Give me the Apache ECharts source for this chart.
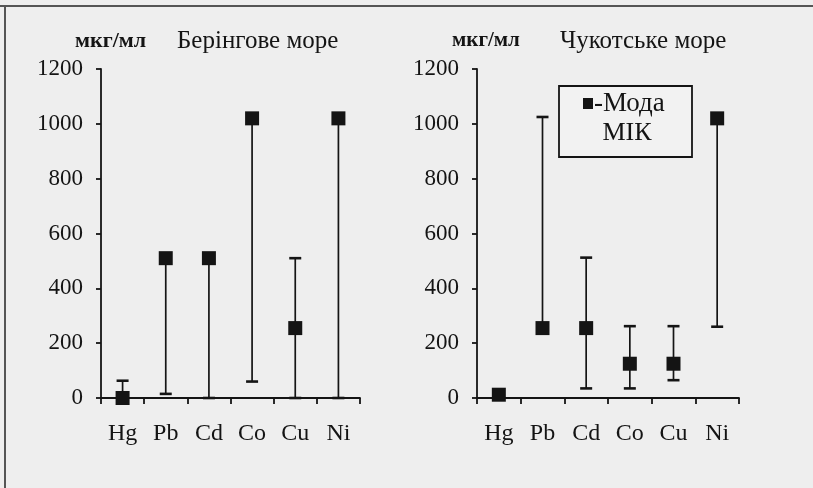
<!DOCTYPE html>
<html>
<head>
<meta charset="utf-8">
<script src="https://cdn.jsdelivr.net/npm/echarts@6/dist/echarts.min.js"></script>
<style>
  html, body { margin: 0; padding: 0; background: #eeeeee; }
  #chart { width: 813px; height: 488px; }
</style>
</head>
<body>
<div id="chart"></div>
<script>
// elemen
const categories = ['Hg', 'Pb', 'Cd', 'Co', 'Cu', 'Ni']

// Берінгове море
const beringMode = [0, 510, 510, 1020, 255, 1020]
const beringLow = [0, 15, 0, 60, 0, 0]
const beringHigh = [63, 510, 510, 1020, 510, 1020]

// Чукотське море
const chukotMode = [12, 255, 255, 125, 125, 1020]
const chukotLow = [5, 255, 35, 35, 65, 260]
const chukotHigh = [20, 1025, 512, 262, 262, 1020]

const yMax = 1200
const yStep = 200

const serif = '"Liberation Serif", "DejaVu Serif", serif'
const ink = '#141414'

function rangeData(low, high) {
    return categories.map((c, i) => [i, low[i], high[i]])
}

function modeData(mode) {
    return categories.map((c, i) => [i, mode[i]])
}

// garis rentang dengan tutup di kedua ujung
function renderWhisker(params, api) {
    const x = api.value(0)
    const lo = api.coord([x, api.value(1)])
    const hi = api.coord([x, api.value(2)])
    const half = 6
    const cap = { stroke: ink, lineWidth: 2.6 }
    return {
        type: 'group',
        children: [
            { type: 'line', shape: { x1: lo[0], y1: lo[1], x2: hi[0], y2: hi[1] }, style: { stroke: ink, lineWidth: 1.7 } },
            { type: 'line', shape: { x1: lo[0] - half, y1: lo[1], x2: lo[0] + half, y2: lo[1] }, style: cap },
            { type: 'line', shape: { x1: hi[0] - half, y1: hi[1], x2: hi[0] + half, y2: hi[1] }, style: cap }
        ]
    }
}

function makeXAxis(gridIndex) {
    return {
        type: 'category',
        gridIndex: gridIndex,
        data: categories,
        boundaryGap: true,
        axisLine: { lineStyle: { color: ink, width: 1.8 } },
        axisTick: { show: true, length: 6, alignWithLabel: false, lineStyle: { color: ink, width: 1.8 } },
        axisLabel: { color: ink, fontFamily: serif, fontSize: 24, margin: 24 },
        splitLine: { show: false }
    }
}

function makeYAxis(gridIndex) {
    return {
        type: 'value',
        gridIndex: gridIndex,
        min: 0,
        max: yMax,
        interval: yStep,
        axisLine: { show: true, lineStyle: { color: ink, width: 1.8 } },
        axisTick: { show: true, length: 5, lineStyle: { color: ink, width: 1.8 } },
        axisLabel: { color: ink, fontFamily: serif, fontSize: 23, margin: 18, formatter: (v) => String(v) },
        splitLine: { show: false }
    }
}

function makeSeries(idx, low, high, mode) {
    return [
        {
            type: 'custom',
            xAxisIndex: idx,
            yAxisIndex: idx,
            renderItem: renderWhisker,
            data: rangeData(low, high),
            clip: false,
            z: 2
        },
        {
            type: 'scatter',
            xAxisIndex: idx,
            yAxisIndex: idx,
            symbol: 'rect',
            symbolSize: 14,
            itemStyle: { color: ink, opacity: 1 },
            data: modeData(mode),
            clip: false,
            z: 3
        }
    ]
}

const chart = echarts.init(document.getElementById('chart'))
const option = {
    backgroundColor: '#eeeeee',
    animation: false,
    grid: [
        { left: 101, top: 69, width: 259, height: 329 },
        { left: 477, top: 69, width: 262, height: 329 }
    ],
    xAxis: [makeXAxis(0), makeXAxis(1)],
    yAxis: [makeYAxis(0), makeYAxis(1)],
    series: [].concat(
        makeSeries(0, beringLow, beringHigh, beringMode),
        makeSeries(1, chukotLow, chukotHigh, chukotMode)
    ),
    graphic: [
        // bingkai halaman
        { type: 'line', shape: { x1: 0, y1: 6, x2: 813, y2: 6 }, style: { stroke: '#555', lineWidth: 2 } },
        { type: 'line', shape: { x1: 5, y1: 6, x2: 5, y2: 488 }, style: { stroke: '#555', lineWidth: 2 } },
        // judul
        { type: 'text', x: 75, y: 41, style: { text: 'мкг/мл', font: 'bold 22px ' + serif, fill: ink, verticalAlign: 'middle' } },
        { type: 'text', x: 177, y: 41, style: { text: 'Берінгове море', font: '25px ' + serif, fill: ink, verticalAlign: 'middle' } },
        { type: 'text', x: 452, y: 41, style: { text: 'мкг/мл', font: 'bold 21px ' + serif, fill: ink, verticalAlign: 'middle' } },
        { type: 'text', x: 560, y: 41, style: { text: 'Чукотське море', font: '25px ' + serif, fill: ink, verticalAlign: 'middle' } },
        // kotak keterangan
        { type: 'rect', shape: { x: 559, y: 86, width: 133, height: 71 }, style: { fill: '#f2f2f2', stroke: ink, lineWidth: 1.8 }, z: 10 },
        { type: 'rect', shape: { x: 583, y: 98, width: 10, height: 11 }, style: { fill: ink }, z: 11 },
        { type: 'text', x: 594, y: 104, style: { text: '-Мода', font: '27px ' + serif, fill: ink, verticalAlign: 'middle' }, z: 11 },
        { type: 'text', x: 627, y: 133, style: { text: 'МІК', font: '26px ' + serif, fill: ink, align: 'center', verticalAlign: 'middle' }, z: 11 }
    ]
}
chart.setOption(option)
</script>
</body>
</html>
